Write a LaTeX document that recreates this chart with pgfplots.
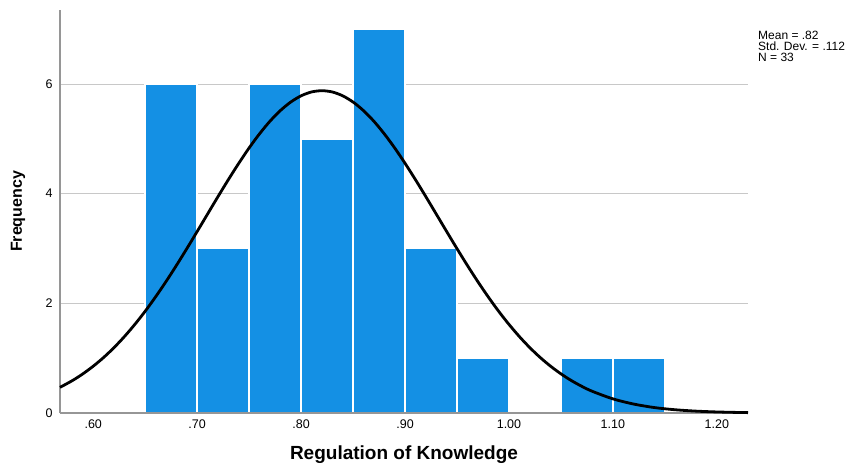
\documentclass[border=0pt]{standalone}
\usepackage{pgfplots}
\pgfplotsset{compat=1.18}
\usepackage{fontspec}
\setmainfont{Liberation Sans}
\definecolor{barblue}{RGB}{20,144,228}
\definecolor{gridgray}{RGB}{200,200,200}
\definecolor{axisgray}{RGB}{150,150,150}
\begin{document}
\begin{tikzpicture}
\begin{axis}[
  scale only axis,
  width=688pt, height=403pt,
  xmin=0.568, xmax=1.230,
  ymin=0, ymax=7.35,
  axis x line*=bottom, axis y line*=left,
  axis line style={draw=axisgray, line width=1.5pt, -},
  xtick={0.6,0.7,0.8,0.9,1.0,1.1,1.2},
  xticklabels={.60,.70,.80,.90,1.00,1.10,1.20},
  ytick={0,2,4,6},
  yticklabels={0,2,4,6},
  major tick length=0pt,
  ymajorgrids,
  grid style={draw=gridgray, line width=1pt},
  tick label style={font=\fontsize{12.5}{14}\selectfont},
  xticklabel style={yshift=-3pt},
  yticklabel style={xshift=-4pt},
  /pgf/number format/assume math mode=true,
  xlabel={\textbf{Regulation of Knowledge}},
  ylabel={\textbf{Frequency}},
  xlabel style={font=\fontsize{19}{21}\selectfont, at={(axis description cs:0.5,0)}, anchor=center, yshift=-42pt},
  ylabel style={font=\fontsize{16}{18}\selectfont, at={(axis description cs:0,0.5)}, anchor=center, yshift=42pt},
  clip=false,
]
\addplot[ybar interval, fill=barblue, draw=white, line width=1.5pt] coordinates {
  (0.65,6) (0.70,3) (0.75,6) (0.80,5) (0.85,7) (0.90,3) (0.95,1) (1.00,0) (1.05,1) (1.10,1) (1.15,1)
};
\addplot[axisgray, line width=1.5pt, no markers] coordinates {(0.568,0) (1.23,0)};
\addplot[black, line width=2.8pt, smooth, no markers] coordinates {
  (0.568,0.468) (0.58,0.592) (0.59,0.714) (0.60,0.854) (0.61,1.013) (0.62,1.193)
  (0.63,1.394) (0.64,1.616) (0.65,1.857) (0.66,2.119) (0.67,2.397) (0.68,2.691)
  (0.69,2.997) (0.70,3.311) (0.71,3.629) (0.72,3.946) (0.73,4.256) (0.74,4.554)
  (0.75,4.835) (0.76,5.092) (0.77,5.321) (0.78,5.515) (0.79,5.671) (0.80,5.785)
  (0.81,5.855) (0.82,5.878) (0.83,5.855) (0.84,5.785) (0.85,5.671) (0.86,5.515)
  (0.87,5.321) (0.88,5.092) (0.89,4.835) (0.90,4.554) (0.91,4.256) (0.92,3.946)
  (0.93,3.629) (0.94,3.311) (0.95,2.997) (0.96,2.691) (0.97,2.397) (0.98,2.119)
  (0.99,1.857) (1.00,1.616) (1.01,1.394) (1.02,1.193) (1.03,1.013) (1.04,0.854)
  (1.05,0.714) (1.06,0.592) (1.07,0.487) (1.08,0.397) (1.10,0.258) (1.12,0.163)
  (1.14,0.099) (1.16,0.059) (1.18,0.034) (1.20,0.019) (1.22,0.010) (1.23,0.007)
};
\end{axis}
\node[anchor=north west, align=left, inner sep=0pt, font=\fontsize{12}{11}\selectfont] at (698pt,382pt) {Mean = .82\\Std. Dev. = .112\\N = 33};
\path[use as bounding box] (-60pt,-53pt) rectangle (791pt,413pt);
\end{tikzpicture}
\end{document}
